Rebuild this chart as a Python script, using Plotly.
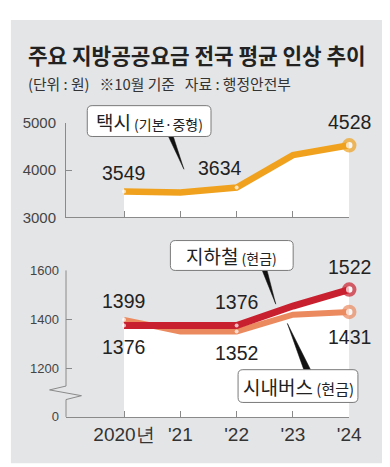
import plotly.graph_objects as go

W, H = 390, 467

years = [2020, 2021, 2022, 2023, 2024]
x_labels = ["2020년", "'21", "'22", "'23", "'24"]
taxi = [3549, 3530, 3634, 4320, 4528]
subway = [1376, 1376, 1376, 1455, 1522]
bus = [1399, 1352, 1352, 1420, 1431]

top_ticks = [3000, 4000, 5000]
bot_ticks = [1004, 1200, 1400, 1600]
bot_ticktext = ["0", "1200", "1400", "1600"]

C_TAXI = "#F0A21E"
C_SUB = "#C9202F"
C_BUS = "#EC8A5F"
BG = "#E4E5E7"
AX = "#8a8a8a"
TXT = "#222222"
NUM_FONT = "Liberation Sans, Arial, sans-serif"
KR_FONT = "Noto Sans CJK KR, Noto Sans CJK SC, sans-serif"


def px(x):
    return x / W


def py(y):
    return 1 - y / H


fig = go.Figure()

# white fills under lines
fig.add_trace(go.Scatter(x=years, y=taxi, xaxis="x", yaxis="y", mode="none",
                         fill="tozeroy", fillcolor="white", hoverinfo="skip"))
for s in (bus, subway):
    fig.add_trace(go.Scatter(x=years, y=s, xaxis="x2", yaxis="y2", mode="none",
                             fill="tozeroy", fillcolor="white", hoverinfo="skip"))

msize = [4, 0, 4, 0, 10.5]
mlw = [0, 0, 0, 0, 4]


def line_trace(vals, color, width, xa, ya):
    return go.Scatter(
        x=years, y=vals, xaxis=xa, yaxis=ya, mode="lines+markers",
        line=dict(color=color, width=width),
        marker=dict(size=msize, color="white", line=dict(color=color, width=mlw)),
        cliponaxis=False, hoverinfo="skip")


fig.add_trace(line_trace(taxi, C_TAXI, 6.5, "x", "y"))
fig.add_trace(line_trace(bus, C_BUS, 6, "x2", "y2"))
fig.add_trace(line_trace(subway, C_SUB, 7, "x2", "y2"))

xr = [2020 - 60 / 58.25, 2024]
xdom = [px(60), px(353)]

fig.update_layout(
    width=W, height=H, margin=dict(l=0, r=0, t=0, b=0),
    paper_bgcolor="white", plot_bgcolor="rgba(0,0,0,0)", showlegend=False,
    xaxis=dict(domain=xdom, range=xr, anchor="y", showgrid=False, zeroline=False,
               showline=True, linecolor=AX, linewidth=1, ticks="inside", ticklen=6,
               tickcolor=AX, tickvals=years, showticklabels=False, fixedrange=True),
    yaxis=dict(domain=[py(208), py(110)], range=[3000, 5000], anchor="x",
               showgrid=False, zeroline=False, showline=True, linecolor=AX, linewidth=1,
               ticks="inside", ticklen=6, tickcolor=AX, tickvals=top_ticks,
               ticklabelstandoff=6,
               tickfont=dict(family=NUM_FONT, size=15, color="#444")),
    xaxis2=dict(domain=xdom, range=xr, anchor="y2", showgrid=False, zeroline=False,
                showline=True, linecolor=AX, linewidth=1, ticks="inside", ticklen=6,
                tickcolor=AX, tickvals=years, ticktext=x_labels, ticklabelstandoff=0,
                tickfont=dict(family=NUM_FONT, size=19, color="#333")),
    yaxis2=dict(domain=[py(415), py(263)], range=[1004, 1600], anchor="x2",
                showgrid=False, zeroline=False, showline=False,
                ticks="inside", ticklen=6, tickcolor=AX, tickvals=bot_ticks,
                ticktext=bot_ticktext, ticklabelstandoff=6,
                tickfont=dict(family=NUM_FONT, size=13, color="#444")),
)

shapes = []
# gray background panel
shapes.append(dict(type="rect", xref="paper", yref="paper", x0=px(3), x1=px(387),
                   y0=py(463), y1=py(3), fillcolor=BG, line=dict(width=0), layer="below"))
# bottom y axis with break
axis_path = (f"M {px(60)},{py(263)} L {px(60)},{py(383)} L {px(43)},{py(387)} "
             f"L {px(76)},{py(393)} L {px(60)},{py(397)} L {px(60)},{py(415)}")
shapes.append(dict(type="path", xref="paper", yref="paper", path=axis_path,
                   line=dict(color=AX, width=1)))


def rrect(x0, y0, x1, y1, r=5):
    p = (f"M {px(x0 + r)},{py(y0)} L {px(x1 - r)},{py(y0)} Q {px(x1)},{py(y0)} {px(x1)},{py(y0 + r)} "
         f"L {px(x1)},{py(y1 - r)} Q {px(x1)},{py(y1)} {px(x1 - r)},{py(y1)} "
         f"L {px(x0 + r)},{py(y1)} Q {px(x0)},{py(y1)} {px(x0)},{py(y1 - r)} "
         f"L {px(x0)},{py(y0 + r)} Q {px(x0)},{py(y0)} {px(x0 + r)},{py(y0)} Z")
    return dict(type="path", xref="paper", yref="paper", path=p, fillcolor="white",
                line=dict(color="#7a7a7a", width=1))


def wedge(a, b, c):
    p = f"M {px(a[0])},{py(a[1])} L {px(b[0])},{py(b[1])} L {px(c[0])},{py(c[1])} Z"
    return dict(type="path", xref="paper", yref="paper", path=p, fillcolor="#111",
                line=dict(color="#111", width=0.5))


shapes.append(wedge((166, 124), (171, 124), (182, 158)))
shapes.append(wedge((263, 263), (268, 263), (277, 298)))
shapes.append(wedge((306, 366), (313, 366), (289, 318)))
shapes.append(rrect(82, 92, 210, 124))
shapes.append(rrect(168, 232, 295, 263))
shapes.append(rrect(238, 366, 362, 400))
fig.update_layout(shapes=shapes)

ann = []
ann.append(dict(text="<b>주요 지방공공요금 전국 평균 인상 추이</b>", xref="paper", yref="paper",
                x=px(19), y=py(38.5), xanchor="left", yanchor="middle", showarrow=False,
                font=dict(family=KR_FONT, size=21.3, color=TXT)))
ann.append(dict(text="(단위 : 원)   ※10월 기준   자료 : 행정안전부", xref="paper", yref="paper",
                x=px(19), y=py(69), xanchor="left", yanchor="middle", showarrow=False,
                font=dict(family=KR_FONT, size=14.8, color="#333")))


def box_text(main, sub, cx, cy, subsize=14):
    return dict(text=f"{main}<span style='font-size:{subsize}px'> {sub}</span>", xref="paper",
                yref="paper", x=px(cx), y=py(cy), xanchor="center", yanchor="middle",
                showarrow=False, font=dict(family=KR_FONT, size=19, color=TXT))


ann.append(box_text("택시", "(기본·중형)", 146, 108))
ann.append(box_text("지하철", "(현금)", 231.5, 248))
ann.append(box_text("시내버스", "(현금)", 300, 383, 15))


def val_label(series, i, xa, ya, xs, ys):
    return dict(text=str(series[i]), x=years[i], y=series[i], xref=xa, yref=ya,
                xshift=xs, yshift=ys, showarrow=False, xanchor="center", yanchor="middle",
                font=dict(family=NUM_FONT, size=19.5, color=TXT))


ann.append(val_label(taxi, 0, "x", "y", -1, 19))
ann.append(val_label(taxi, 2, "x", "y", -17, 19))
ann.append(val_label(taxi, 4, "x", "y", 0, 23))
ann.append(val_label(bus, 0, "x2", "y2", -1, 19))
ann.append(val_label(subway, 0, "x2", "y2", -1, -21.5))
ann.append(val_label(subway, 2, "x2", "y2", 0, 23))
ann.append(val_label(bus, 2, "x2", "y2", 0, -22))
ann.append(val_label(subway, 4, "x2", "y2", 0, 23))
ann.append(val_label(bus, 4, "x2", "y2", 0, -25))
fig.update_layout(annotations=ann)

fig.write_html("out.html")
